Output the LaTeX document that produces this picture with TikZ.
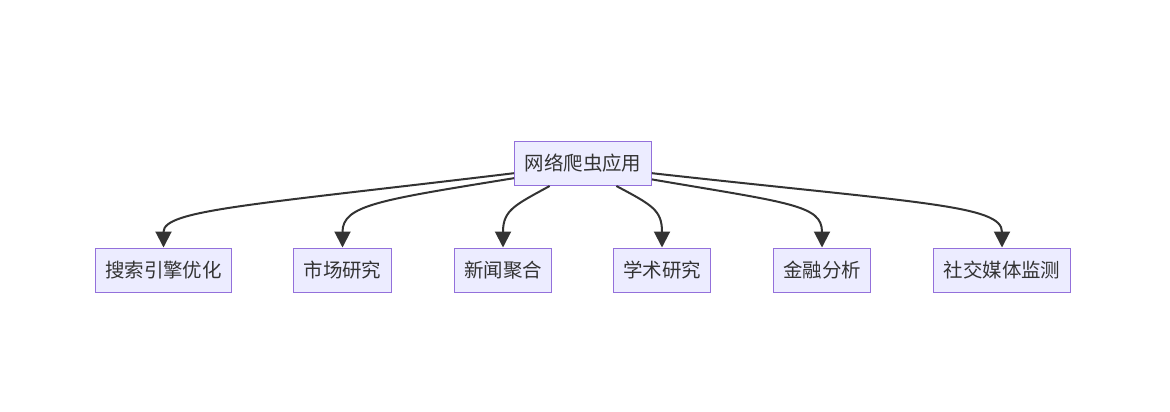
\documentclass[tikz,border=0pt]{standalone}
\usepackage{fontspec}
\newfontfamily\cjk{Noto Sans CJK SC}
\usetikzlibrary{arrows.meta}

\definecolor{boxfill}{HTML}{ECECFF}
\definecolor{boxline}{HTML}{9370DB}
\definecolor{ink}{HTML}{333333}

\tikzset{
	app/.style={draw=boxline, fill=boxfill, line width=0.75pt, text=ink, font=\cjk\fontsize{14.6pt}{16pt}\selectfont, minimum height=33pt, inner xsep=7.5pt},
	edge/.style={draw=ink, line width=1.5pt, -{Triangle[length=12pt,width=12pt]}}
}

\begin{document}
\begin{tikzpicture}[x=0.75pt,y=-0.75pt]
	\useasboundingbox (0,0) rectangle (1170,411);
	
	\node[app] (root) at (583,163.5) {网络爬虫应用};
	
	\node[app] (seo) at (163.5,270) {搜索引擎优化};
	\node[app] (market) at (342.5,270) {市场研究};
	\node[app] (news) at (503,270) {新闻聚合};
	\node[app] (academic) at (662,270) {学术研究};
	\node[app] (finance) at (822,270) {金融分析};
	\node[app] (social) at (1002,270) {社交媒体监测};
	
	\draw[edge] (root.188) .. controls (250,205) and (163.5,210) .. (seo.north);
	\draw[edge] (root.192) .. controls (380,200) and (342.5,205) .. (market.north);
	\draw[edge] (root.214) .. controls (515,205) and (503,210) .. (news.north);
	\draw[edge] (root.326) .. controls (652,205) and (662,210) .. (academic.north);
	\draw[edge] (root.347) .. controls (790,203) and (822,205) .. (finance.north);
	\draw[edge] (root.352) .. controls (920,203) and (1002,205) .. (social.north);
	
\end{tikzpicture}
\end{document}
